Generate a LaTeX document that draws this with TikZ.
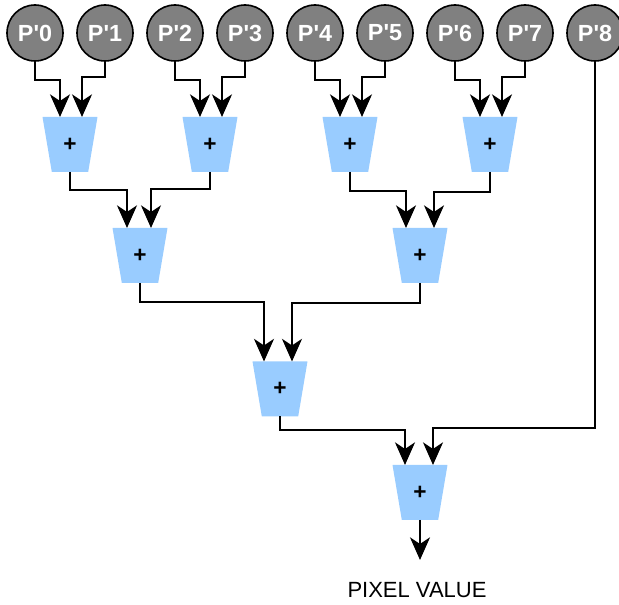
\documentclass[tikz,border=0pt]{standalone}
\usepackage{fontspec}
\setmainfont{Liberation Sans}
\usetikzlibrary{arrows.meta}
\usetikzlibrary{shapes.geometric, calc, math}
\definecolor{pgray}{RGB}{128,128,128}
\definecolor{addblue}{RGB}{153,204,255}

\begin{document}
\begin{tikzpicture}[x=0.75pt, y=-0.75pt,
  pix/.style={circle, draw, line width=1.2pt, fill=pgray, minimum size=42pt, inner sep=0pt,
    text=white, font=\fontsize{17.5}{17.5}\selectfont\bfseries},
  adder/.style={trapezium, trapezium stretches=true, shape border rotate=180,
    trapezium left angle=75.7, trapezium right angle=75.7, minimum width=41.25pt,
    minimum height=41.25pt, inner sep=0pt, outer sep=0pt, fill=addblue,
    font=\fontsize{17}{17}\selectfont\bfseries},
  link/.style={line width=1.4pt, -{Stealth[length=17pt,width=15pt,inset=5pt]}}]
\tikzmath{
\H = 27.5;
}
\useasboundingbox (0,0) rectangle (619,605);

% input pixels
\foreach \i in {0,...,8}
  \node[pix] (p\i) at (35+70*\i,33) {P\textquotesingle\i};

% adder tree
\node[adder] (a1) at (70,144.5) {+};
\node[adder] (a2) at (210,144.5) {+};
\node[adder] (a3) at (350,144.5) {+};
\node[adder] (a4) at (490,144.5) {+};
\node[adder] (b1) at (140,255.5) {+};
\node[adder] (b2) at (420,255.5) {+};
\node[adder] (c1) at (280,389) {+};
\node[adder] (d1) at (420,492.5) {+};

\node (out) at (417,590) {\fontsize{16.5}{16.5}\selectfont PIXEL VALUE};
\coordinate (outtip) at (420,560);

% first level
\foreach \k/\l/\r in {1/0/1, 2/2/3, 3/4/5, 4/6/7}{
  \draw[link] (p\l.south) |- ($(a\k)+(-10,-64.5)$) -- ($(a\k)+(-10,-\H)$);
  \draw[link] (p\r.south) |- ($(a\k)+(12,-67.5)$) -- ($(a\k)+(12,-\H)$);
}

% second level
\draw[link] ($(a1)+(0,\H)$) |- ($(b1)+(-13,-65.5)$) -- ($(b1)+(-13,-\H)$);
\draw[link] ($(a2)+(0,\H)$) |- ($(b1)+(11,-66.5)$) -- ($(b1)+(11,-\H)$);
\draw[link] ($(a3)+(0,\H)$) |- ($(b2)+(-14,-64.5)$) -- ($(b2)+(-14,-\H)$);
\draw[link] ($(a4)+(0,\H)$) |- ($(b2)+(14,-63.5)$) -- ($(b2)+(14,-\H)$);

% third level
\draw[link] ($(b1)+(0,\H)$) |- ($(c1)+(-16,-87)$) -- ($(c1)+(-16,-\H)$);
\draw[link] ($(b2)+(0,\H)$) |- ($(c1)+(12,-86)$) -- ($(c1)+(12,-\H)$);

% last level
\draw[link] ($(c1)+(0,\H)$) |- ($(d1)+(-15,-62.5)$) -- ($(d1)+(-15,-\H)$);
\draw[link] (p8.south) |- ($(d1)+(13,-64.5)$) -- ($(d1)+(13,-\H)$);

\draw[link] ($(d1)+(0,\H)$) -- (outtip);
\end{tikzpicture}
\end{document}
